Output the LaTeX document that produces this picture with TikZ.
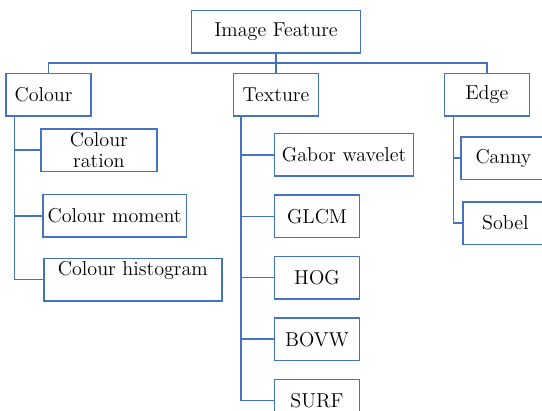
\documentclass[tikz,border=0pt]{standalone}
\usepackage{fontspec}
\usepackage{tikz}
\usetikzlibrary{positioning,calc}
\definecolor{featblue}{RGB}{68,114,196}

\begin{document}
\begin{tikzpicture}[
    node distance=0.44cm,
    box/.style={rectangle, draw=featblue, line width=1pt,
        minimum width=2.125cm, minimum height=1.06cm, align=center,
        inner ysep=1pt, font=\fontsize{14.3}{15.5}\selectfont},
    link/.style={featblue, line width=1pt}
]
    \path[use as bounding box, clip] (-6.9,-9.4575) rectangle (6.65,0.7925);

    \node[box, minimum width=4.225cm] (feature) at (0,0) {Image Feature};
    \node[box, below=0.48cm of feature] (texture) {Texture};
    \node[box, left=3.525cm of texture, text width=1.7cm, align=left, inner xsep=0.21cm] (colour) {Colour};
    \node[box, right=3.11cm of texture] (edge) {Edge};

    \node[box, minimum width=2.9cm, below right=0.29cm and 0.87cm of colour.south west] (ration) {Colour\\ration};
    \node[box, minimum width=3.475cm, below right=0.55cm and 0.05cm of ration.south west] (moment) {Colour moment};
    \node[box, minimum width=4.45cm, below right=0.5cm and 0.025cm of moment.south west] (histogram) {Colour histogram\\ \mbox{}};

    \node[box, minimum width=3.475cm, below right=0.41cm and 1.025cm of texture.south west] (gabor) {Gabor wavelet};
    \node[box, below=of gabor.south west, anchor=north west] (glcm) {GLCM};
    \node[box, below=of glcm] (hog) {HOG};
    \node[box, below=of hog] (bovw) {BOVW};
    \node[box, below=of bovw] (surf) {SURF};

    \node[box, below right=0.49cm and 0.415cm of edge.south west] (canny) {Canny};
    \node[box, below right=0.53cm and 0.05cm of canny.south west] (sobel) {Sobel};

    \coordinate (bus) at ($(feature.south)!0.5!(texture.north)$);
    \draw[link] (feature.south) -- (texture.north);
    \draw[link] (colour.north) |- (bus) -| (edge.north);

    \foreach \kid in {ration,moment,histogram}
        \draw[link] ([xshift=0.235cm]colour.south west) |- (\kid.west);
    \foreach \kid in {gabor,glcm,hog,bovw,surf}
        \draw[link] ([xshift=0.21cm]texture.south west) |- (\kid.west);
    \foreach \kid in {canny,sobel}
        \draw[link] ([xshift=0.24cm]edge.south west) |- (\kid.west);
\end{tikzpicture}
\end{document}
